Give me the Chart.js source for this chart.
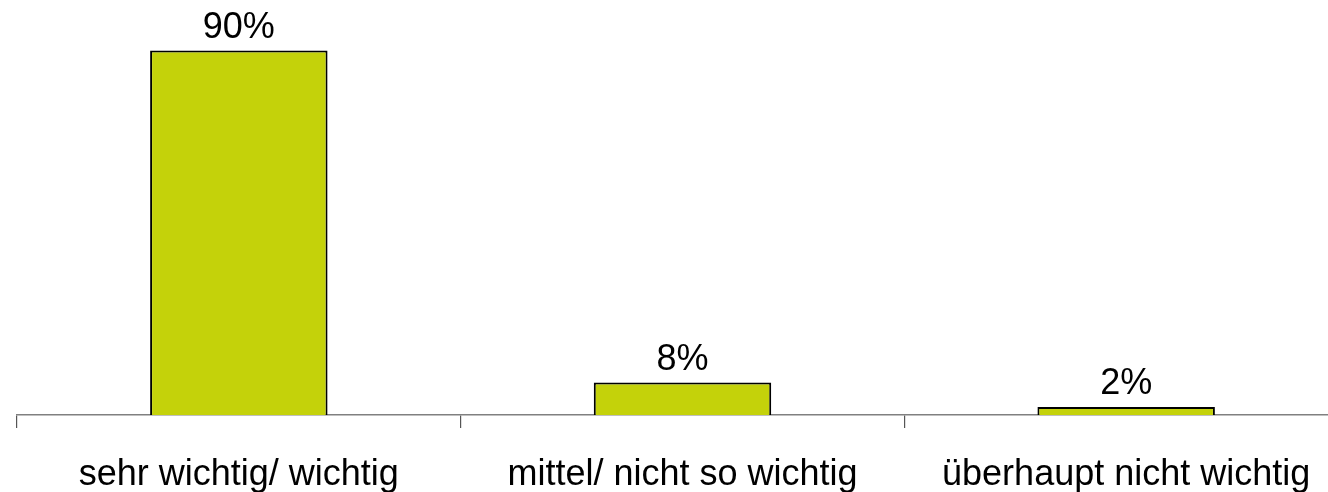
<!DOCTYPE html>
<html>
<head>
<meta charset="utf-8">
<style>
  html, body { margin: 0; padding: 0; background: #fff; overflow: hidden; }
  #wrap { width: 1348px; height: 492px; }
</style>
<script src="https://cdn.jsdelivr.net/npm/chart.js@4.4.0/dist/chart.umd.min.js"></script>
</head>
<body>
<div id="wrap"><canvas id="chart" width="1348" height="492"></canvas></div>
<script>
const categories = ['sehr wichtig/ wichtig', 'mittel/ nicht so wichtig', 'überhaupt nicht wichtig'];
const values = [90, 8, 2];
const valueLabels = ['90%', '8%', '2%'];

// Prozentwerte über die Balken schreiben
const barLabels = {
    id: 'barLabels',
    afterDatasetsDraw(chart) {
        const ctx = chart.ctx;
        const meta = chart.getDatasetMeta(0);
        ctx.save();
        ctx.font = '36px "Liberation Sans", Arial, sans-serif';
        ctx.fillStyle = '#000';
        ctx.textAlign = 'center';
        ctx.textBaseline = 'alphabetic';
        meta.data.forEach(function(bar, i) {
            ctx.fillText(valueLabels[i], bar.x, bar.y - 13);
        });
        ctx.restore();
    }
};

new Chart(document.getElementById('chart').getContext('2d'), {
    type: 'bar',
    data: {
        labels: categories,
        datasets: [{
            data: values,
            backgroundColor: '#C4D20A',
            borderColor: '#000',
            borderWidth: 2,
            barPercentage: 0.4,
            categoryPercentage: 1
        }]
    },
    options: {
        responsive: false,
        animation: false,
        layout: { padding: { left: 17, top: 10, right: 0, bottom: 0 } },
        plugins: { legend: { display: false }, tooltip: { enabled: false } },
        scales: {
            x: {
                offset: true,
                grid: {
                    offset: true,
                    drawOnChartArea: false,
                    tickLength: 13,
                    color: '#555',
                    lineWidth: 1.2
                },
                border: { color: '#808080', width: 1.5 },
                ticks: {
                    color: '#000',
                    padding: 25,
                    font: { family: '"Liberation Sans", Arial, sans-serif', size: 36 }
                },
                afterFit(scale) { scale.height = 77; }
            },
            y: {
                display: false,
                min: 0,
                max: 100
            }
        }
    },
    plugins: [barLabels]
});
</script>
</body>
</html>
